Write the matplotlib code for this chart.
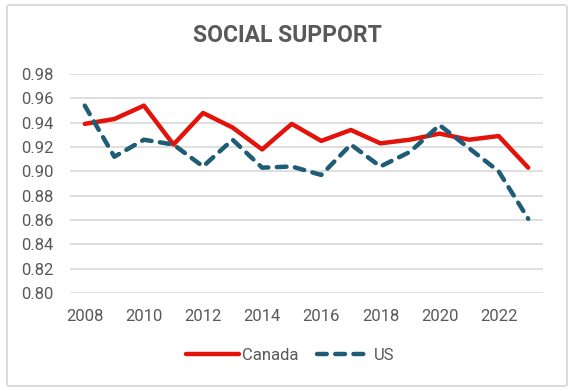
import matplotlib
matplotlib.use("Agg")
import matplotlib.pyplot as plt
from matplotlib.patches import FancyBboxPatch

years = list(range(2008, 2024))
canada = [0.939, 0.943, 0.954, 0.922, 0.948, 0.936, 0.918, 0.939, 0.925,
          0.934, 0.923, 0.926, 0.931, 0.926, 0.929, 0.903]
us = [0.954, 0.912, 0.926, 0.922, 0.904, 0.926, 0.903, 0.904, 0.897,
      0.922, 0.904, 0.916, 0.938, 0.919, 0.900, 0.861]
yticks = [0.80, 0.82, 0.84, 0.86, 0.88, 0.90, 0.92, 0.94, 0.96, 0.98]
xticks = list(range(2008, 2024, 2))
title = "SOCIAL SUPPORT"

plt.rcParams['font.family'] = ['Roboto', 'DejaVu Sans']
text_color = '#595959'

fig = plt.figure(figsize=(5.75, 3.91), dpi=100)
ax = fig.add_axes([70/575, 1-293/391, (543-70)/575, (293-74)/391])

border = FancyBboxPatch((7/575, 5/391), (567-7)/575, (386-5)/391,
                        boxstyle="round,pad=0,rounding_size=0.005",
                        transform=fig.transFigure, fill=False,
                        edgecolor='#d9d9d9', linewidth=1.3)
fig.patches.append(border)

ax.plot(years, canada, color='#E3120B', linewidth=3.2, label='Canada',
        solid_capstyle='round', solid_joinstyle='round', zorder=3)
ax.plot(years, us, color='#1F5C75', linewidth=3.2, label='US',
        linestyle=(0, (2.2, 1.9)), dash_capstyle='round', zorder=3)

ax.set_xlim(2007.5, 2023.5)
ax.set_ylim(0.80, 0.98)
ax.set_yticks(yticks)
ax.set_yticklabels([f"{v:.2f}" for v in yticks])
ax.set_xticks(xticks)
ax.set_xticklabels([str(x) for x in xticks])
ax.grid(axis='y', color='#d9d9d9', linewidth=1.2)
ax.set_axisbelow(True)
for s in ax.spines.values():
    s.set_visible(False)
ax.tick_params(axis='both', length=0, labelsize=12, labelcolor=text_color)
ax.tick_params(axis='y', pad=12)
ax.tick_params(axis='x', pad=11.5)

fig.text(287/575, 1-35.5/391, title, ha='center', va='center',
         fontsize=16.5, fontweight='bold', color=text_color)

leg = fig.legend(loc='center', bbox_to_anchor=(290/575, 1-355/391), ncol=2,
                 frameon=False, fontsize=12, handlelength=3.2,
                 handletextpad=0.2, columnspacing=1.1)
for t in leg.get_texts():
    t.set_color(text_color)

fig.savefig("out.png", dpi=100)
